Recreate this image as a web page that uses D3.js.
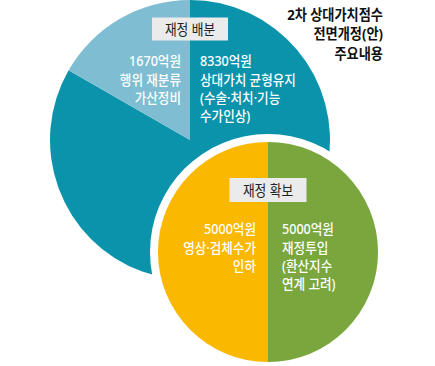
<!DOCTYPE html>
<html><head><meta charset="utf-8">
<script src="https://cdn.jsdelivr.net/npm/d3@7"></script>
<style>html,body{margin:0;padding:0;background:#fff;}svg{display:block;}</style>
</head><body>
<svg id="c" width="435" height="366"></svg>
<script>
// Data
const titleLines = ["2차 상대가치점수", "전면개정(안)", "주요내용"];
const bigTitle = "재정 배분";
const bigValues = [8330, 1670];
const bigColors = ["#0b93ac", "#7fbdd3"];
const bigLabels = [
  ["8330억원", "상대가치 균형유지", "(수술·처치·기능", "수가인상)"],
  ["1670억원", "행위 재분류", "가산정비"]
];
const smallTitle = "재정 확보";
const smallValues = [5000, 5000];
const smallColors = ["#79a63d", "#fbb800"];
const smallLabels = [
  ["5000억원", "재정투입", "(환산지수", "연계 고려)"],
  ["5000억원", "영상·검체수가", "인하"]
];

const svg = d3.select("#c");
const font = "'Noto Sans', 'Noto Sans CJK KR', sans-serif";

function drawPie(cx, cy, r, values, colors) {
  const pie = d3.pie().sort(null).startAngle(0).endAngle(2 * Math.PI);
  const arc = d3.arc().innerRadius(0).outerRadius(r);
  const g = svg.append("g").attr("transform", `translate(${cx},${cy})`);
  g.selectAll("path").data(pie(values)).join("path")
    .attr("d", arc).attr("fill", (d, i) => colors[i]);
  return g;
}

function textBlock(x, y, lines, anchor, size, lh, color, weight, sx) {
  lines.forEach((t, i) => {
    svg.append("text")
      .attr("transform", `translate(${x},${y + i * lh}) scale(${sx},1)`)
      .attr("text-anchor", anchor)
      .attr("dominant-baseline", "central")
      .attr("font-family", font)
      .attr("font-size", size)
      .attr("font-weight", weight || 400)
      .attr("fill", color)
      .text(t);
  });
}

function labelBox(cx, cy, w, h, t) {
  svg.append("rect").attr("x", cx - w / 2).attr("y", cy - h / 2)
    .attr("width", w).attr("height", h).attr("fill", "#ebebeb");
  textBlock(cx, cy, [t], "middle", 14.5, 0, "#222", 400, 0.88);
}

// Big pie
drawPie(190, 140, 140, bigValues, bigColors);
// White ring behind small pie
svg.append("circle").attr("cx", 268).attr("cy", 252).attr("r", 118).attr("fill", "#fff");
drawPie(268, 252, 110, smallValues, smallColors);

// Labels
labelBox(190, 29, 76, 23, bigTitle);
textBlock(200, 61, bigLabels[0], "start", 14, 18.3, "#fff", 500, 0.9);
textBlock(181, 61, bigLabels[1], "end", 14, 18.3, "#fff", 500, 0.9);

labelBox(268, 190, 77, 24, smallTitle);
textBlock(282, 229, smallLabels[0], "start", 14, 18.3, "#fff", 500, 0.9);
textBlock(256, 229, smallLabels[1], "end", 14, 18.3, "#fff", 500, 0.9);

textBlock(383, 14, titleLines, "end", 15, 19.5, "#111", 700, 0.88);
</script>
</body></html>
